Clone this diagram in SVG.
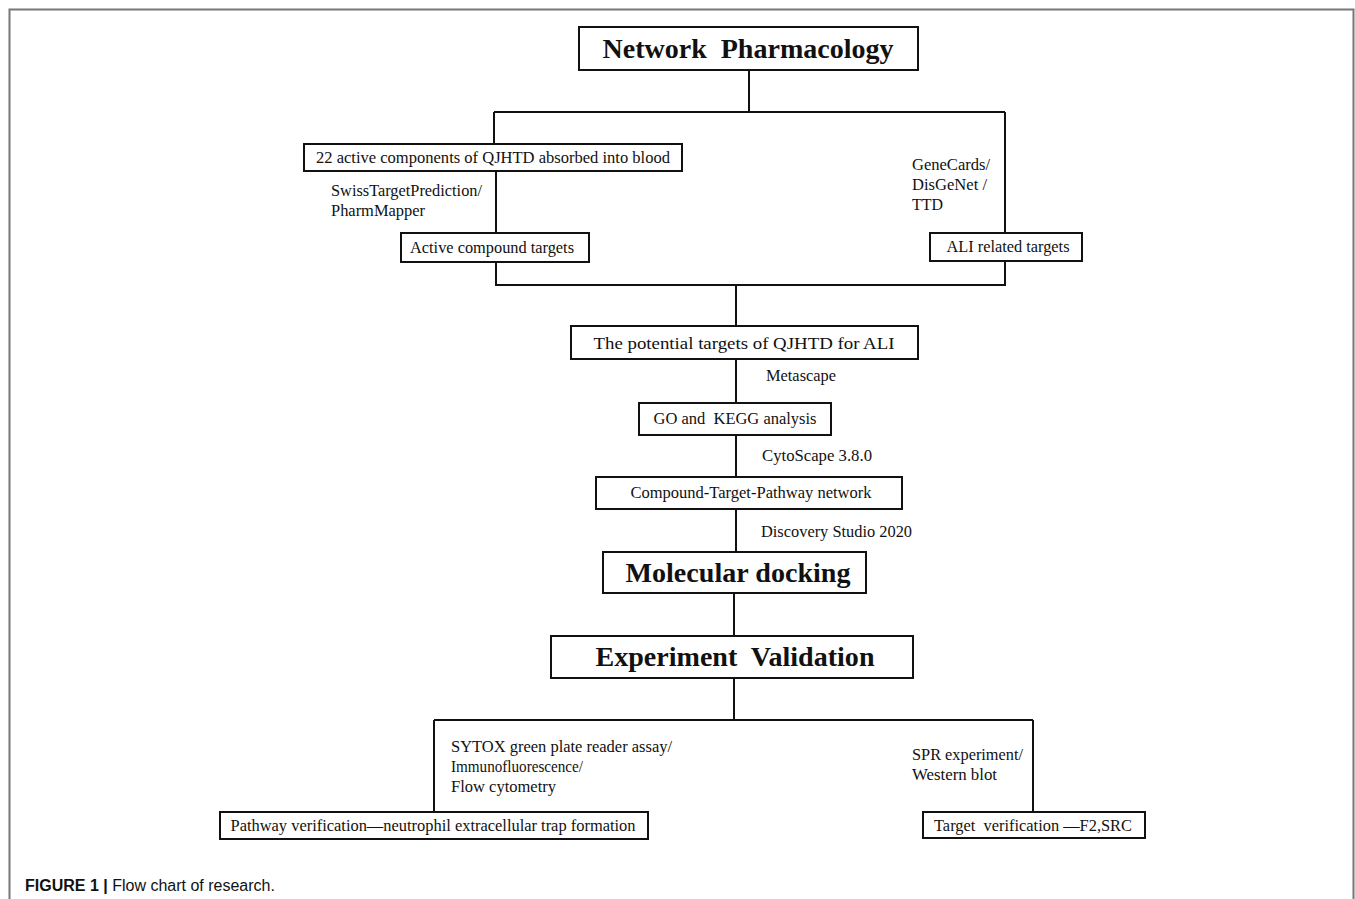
<svg xmlns="http://www.w3.org/2000/svg" width="1355" height="899" viewBox="0 0 1355 899">
<style>
.box{fill:#fff;stroke:#111;stroke-width:2}
.ln{fill:none;stroke:#111;stroke-width:2}
text{white-space:pre}
.t{font-family:"Liberation Serif","Times New Roman",serif;fill:#111;font-size:16px}
.tc{text-anchor:middle}
.big{font-weight:bold;font-size:27px}
.lab{font-family:"Liberation Serif","Times New Roman",serif;fill:#111;font-size:16px}
.cap{font-family:"Liberation Sans",Arial,sans-serif;font-size:16px;fill:#111}
</style>
<rect x="0" y="0" width="1355" height="899" fill="#fff"/>
<path d="M9.5,899 V9.5 H1353.5 V899" fill="none" stroke="#777" stroke-width="2"/>
<g id="connectors">
<path class="ln" d="M749,70 V112 M494,112 H1005 M494,112 V144 M1005,112 V234"/>
<path class="ln" d="M496,171 V233"/>
<path class="ln" d="M496,262 V285 H1005 V261 M736,285 V327"/>
<path class="ln" d="M736,359 V403 M736,435 V477 M736,509 V552 M734,593 V636 M734,678 V720"/>
<path class="ln" d="M434,720 H1033 M434,720 V812 M1033,720 V812"/>
</g>
<g id="labels">
<text class="lab" x="331" y="196" textLength="151" lengthAdjust="spacingAndGlyphs">SwissTargetPrediction/</text>
<text class="lab" x="331" y="216" textLength="94" lengthAdjust="spacingAndGlyphs">PharmMapper</text>
<text class="lab" x="912" y="170" textLength="78" lengthAdjust="spacingAndGlyphs">GeneCards/</text>
<text class="lab" x="912" y="190" textLength="75" lengthAdjust="spacingAndGlyphs">DisGeNet /</text>
<text class="lab" x="912" y="210" textLength="31" lengthAdjust="spacingAndGlyphs">TTD</text>
<text class="lab" x="766" y="381" textLength="70" lengthAdjust="spacingAndGlyphs">Metascape</text>
<text class="lab" x="762" y="461" textLength="110" lengthAdjust="spacingAndGlyphs">CytoScape 3.8.0</text>
<text class="lab" x="761" y="537" textLength="151" lengthAdjust="spacingAndGlyphs">Discovery Studio 2020</text>
<text class="lab" x="451" y="752" textLength="221" lengthAdjust="spacingAndGlyphs">SYTOX green plate reader assay/</text>
<text class="lab" x="451" y="772" textLength="132" lengthAdjust="spacingAndGlyphs">Immunofluorescence/</text>
<text class="lab" x="451" y="792" textLength="105" lengthAdjust="spacingAndGlyphs">Flow cytometry</text>
<text class="lab" x="912" y="760" textLength="111" lengthAdjust="spacingAndGlyphs">SPR experiment/</text>
<text class="lab" x="912" y="780" textLength="85" lengthAdjust="spacingAndGlyphs">Western blot</text>
</g>
<g id="n-network">
<rect class="box" x="579" y="27" width="339" height="43"/>
<text class="t tc big" x="748" y="58" font-size="28" textLength="291" lengthAdjust="spacingAndGlyphs">Network  Pharmacology</text>
</g>
<g id="n-components">
<rect class="box" x="304" y="144" width="378" height="27"/>
<text class="t tc" x="493" y="163" textLength="354" lengthAdjust="spacingAndGlyphs">22 active components of QJHTD absorbed into blood</text>
</g>
<g id="n-compound-targets">
<rect class="box" x="401" y="233" width="188" height="29"/>
<text class="t tc" x="492" y="253" textLength="164" lengthAdjust="spacingAndGlyphs">Active compound targets</text>
</g>
<g id="n-ali-targets">
<rect class="box" x="930" y="233" width="152" height="28"/>
<text class="t tc" x="1008" y="252" textLength="123" lengthAdjust="spacingAndGlyphs">ALI related targets</text>
</g>
<g id="n-potential">
<rect class="box" x="571" y="326" width="347" height="33"/>
<text class="t tc" x="744" y="349" font-size="18" textLength="301" lengthAdjust="spacingAndGlyphs">The potential targets of QJHTD for ALI</text>
</g>
<g id="n-go-kegg">
<rect class="box" x="639" y="403" width="192" height="32"/>
<text class="t tc" x="735" y="424" textLength="163" lengthAdjust="spacingAndGlyphs">GO and  KEGG analysis</text>
</g>
<g id="n-ctp">
<rect class="box" x="596" y="477" width="306" height="32"/>
<text class="t tc" x="751" y="498" font-size="15" textLength="241" lengthAdjust="spacingAndGlyphs">Compound-Target-Pathway network</text>
</g>
<g id="n-docking">
<rect class="box" x="603" y="552" width="263" height="41"/>
<text class="t tc big" x="738" y="582" textLength="225" lengthAdjust="spacingAndGlyphs">Molecular docking</text>
</g>
<g id="n-experiment">
<rect class="box" x="551" y="636" width="362" height="42"/>
<text class="t tc big" x="735" y="666" textLength="279" lengthAdjust="spacingAndGlyphs">Experiment  Validation</text>
</g>
<g id="n-pathway">
<rect class="box" x="220" y="812" width="428" height="27"/>
<text class="t tc" x="433" y="831" font-size="15.5" textLength="405" lengthAdjust="spacingAndGlyphs">Pathway verification—neutrophil extracellular trap formation</text>
</g>
<g id="n-target">
<rect class="box" x="923" y="812" width="222" height="26"/>
<text class="t tc" x="1033" y="831" font-size="15.5" textLength="198" lengthAdjust="spacingAndGlyphs">Target  verification —F2,SRC</text>
</g>
<g id="caption">
<text class="cap" x="25" y="891"><tspan font-weight="bold">FIGURE 1 |</tspan> Flow chart of research.</text>
</g>
</svg>
